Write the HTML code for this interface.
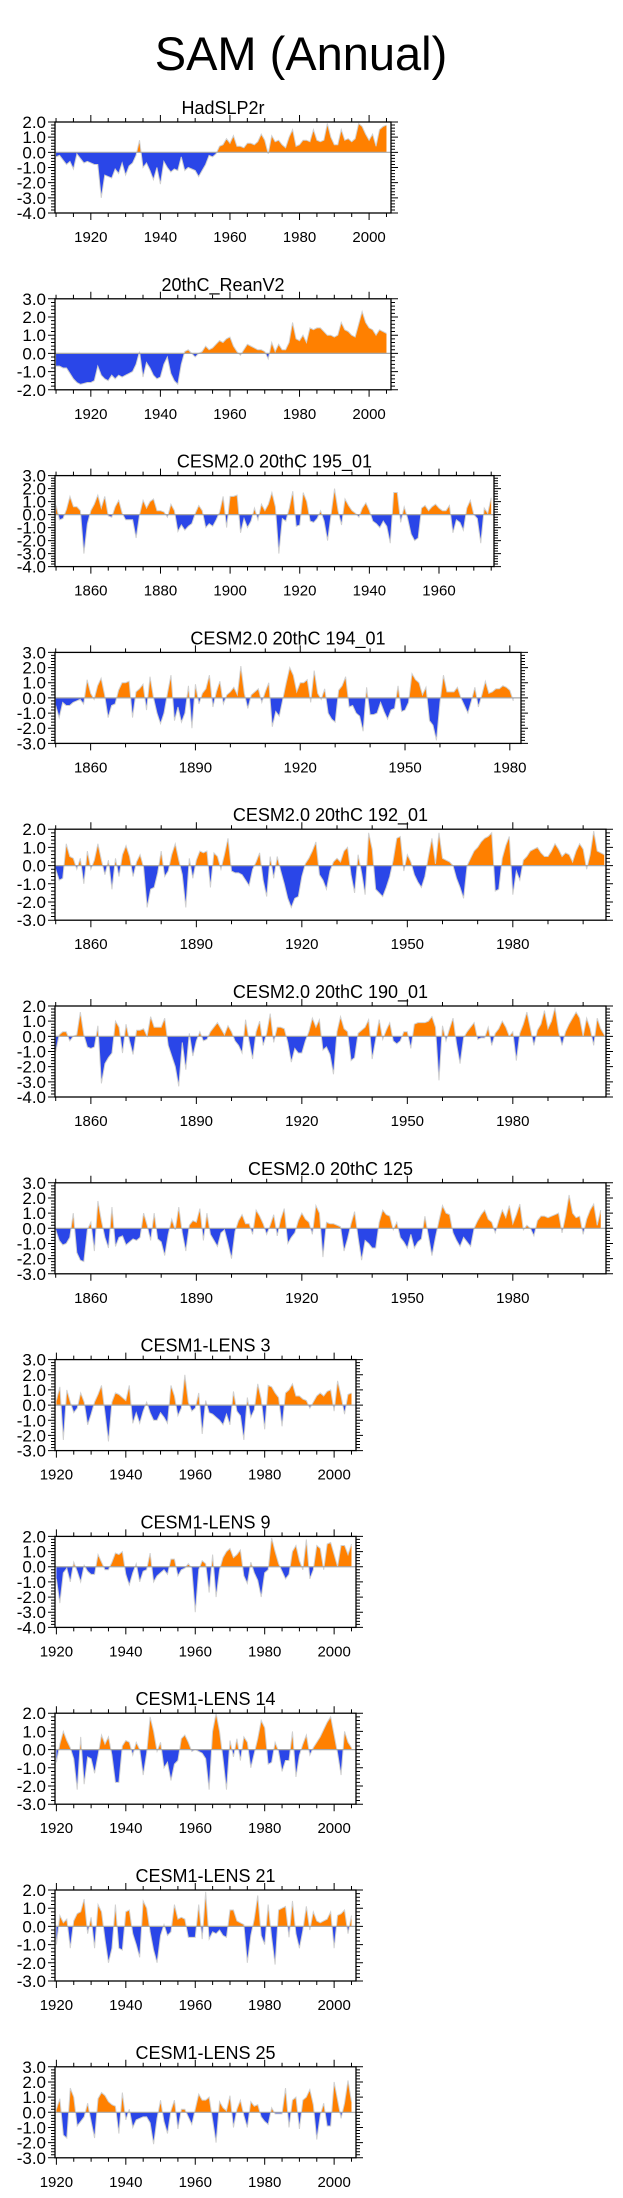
<!DOCTYPE html>
<html><head><meta charset="utf-8"><title>SAM (Annual)</title>
<style>
html,body{margin:0;padding:0;background:#fff;}
svg{display:block;font-family:"Liberation Sans",Arial,sans-serif;}
</style></head>
<body>
<svg id="chart" width="623" height="2198" viewBox="0 0 623 2198" xmlns="http://www.w3.org/2000/svg">
<text x="301" y="70" font-size="47" text-anchor="middle" fill="#000">SAM (Annual)</text>
</svg>
<script>
// ---- data (annual values, consecutive years from each start year) ----
const panelTitles = ["HadSLP2r","20thC_ReanV2","CESM2.0 20thC 195_01","CESM2.0 20thC 194_01","CESM2.0 20thC 192_01","CESM2.0 20thC 190_01","CESM2.0 20thC 125","CESM1-LENS 3","CESM1-LENS 9","CESM1-LENS 14","CESM1-LENS 21","CESM1-LENS 25"];
const startYears = [1910,1910,1850,1850,1850,1850,1850,1920,1920,1920,1920,1920];
const yMaxTicks = [2,3,3,3,2,2,3,3,2,2,2,3];
const yMinTicks = [-4,-2,-4,-3,-3,-4,-3,-3,-4,-3,-3,-3];
const xMajorStep = [20,20,20,30,30,30,30,20,20,20,20,20];
const xMinorStep = [5,5,5,10,10,10,10,5,5,5,5,5];

const hadslpValues = [-0.3,-0.2,-0.5,-0.8,-0.6,-1.1,-0.1,-0.4,-0.7,-0.6,
-0.7,-0.8,-0.8,-3.0,-1.5,-1.6,-1.7,-1.1,-1.4,-0.7,
-1.5,-0.9,-0.7,-0.2,0.8,-1.0,-0.7,-1.2,-1.8,-1.0,
-2.1,-0.6,-1.0,-1.3,-1.1,-1.2,-0.3,-1.2,-1.0,-1.1,
-1.2,-1.6,-1.2,-0.8,-0.2,-0.3,-0.1,0.4,0.5,0.9,
0.6,1.1,0.4,0.4,0.3,0.6,0.6,0.5,0.7,1.2,
0.8,-0.1,1.1,0.7,0.8,0.5,0.3,1.0,1.5,0.4,
0.5,0.8,0.8,0.7,1.5,0.8,0.7,0.8,1.9,1.0,
0.5,0.5,1.5,0.8,0.9,0.7,0.9,1.9,1.7,1.2,
0.8,1.2,0.4,1.5,1.7,1.8];
const reanValues = [-0.7,-0.7,-0.8,-0.8,-1.1,-1.4,-1.6,-1.7,-1.65,-1.6,
-1.6,-1.5,-0.7,-1.2,-1.4,-1.5,-1.2,-1.4,-1.2,-1.3,
-1.2,-1.1,-1.0,-0.6,0.1,-1.3,-0.5,-0.8,-1.2,-1.4,
-1.3,-0.6,-0.2,-1.1,-1.5,-1.7,-0.6,0.1,0.2,0.0,
-0.2,0.0,0.1,0.4,0.2,0.3,0.5,0.7,0.6,0.8,
0.9,0.4,0.1,-0.1,0.2,0.5,0.4,0.3,0.2,0.2,
0.1,-0.3,0.6,0.1,0.5,0.2,0.2,0.6,1.7,0.8,
0.7,1.0,0.6,1.4,1.3,1.4,1.4,1.2,1.0,1.0,
0.9,1.0,1.7,1.3,1.2,1.0,0.9,1.6,2.3,1.7,
1.4,1.3,1.0,1.3,1.2,1.1];
const cesm195Values = [0.7,-0.4,-0.3,0.4,1.4,0.6,0.6,0.3,-3.0,-0.7,
0.3,0.8,1.5,0.5,1.4,-0.1,-0.2,0.6,1.1,0.1,
-0.4,-0.4,-0.4,-1.8,0.0,1.1,0.5,1.0,1.2,0.3,
0.3,0.2,-0.2,0.8,0.3,-1.3,-0.8,-1.2,-0.9,-0.7,
0.1,0.7,0.3,-1.0,-0.7,-0.9,-0.4,0.2,1.4,-1.0,
1.4,1.4,1.5,-1.4,-0.3,-1.0,-0.5,0.5,-0.4,0.8,
0.3,0.8,1.7,0.6,-3.0,-0.3,-0.5,0.5,1.8,-0.9,
-0.8,1.7,1.0,-0.5,-0.6,-0.3,0.3,-0.5,-2.0,0.0,
2.0,0.3,-0.8,1.2,0.7,0.3,0.1,-0.2,0.5,0.9,
0.3,-0.5,-0.7,-1.0,-0.5,-0.9,-2.2,1.7,1.7,-0.6,
0.6,-0.3,-1.5,-2.0,-1.8,0.5,0.7,0.3,0.6,0.8,
0.5,0.3,0.3,0.7,-1.4,-0.4,-0.6,-1.2,0.5,1.1,
0.0,-0.3,-2.2,0.5,0.1,1.3];
const cesm194Values = [-0.5,-1.3,-0.3,-0.5,-0.5,-0.3,-0.2,-0.1,-0.4,1.2,
0.3,-0.1,0.8,1.3,0.2,-1.3,-0.5,-0.4,0.5,1.0,
1.0,1.1,-1.3,0.4,0.6,0.9,-0.8,1.4,0.0,-1.0,
-1.7,-1.0,0.3,1.5,-1.5,-0.6,-1.6,-1.0,0.8,-2.0,
0.9,-0.4,0.3,0.6,1.5,-0.6,0.4,1.1,-0.4,0.2,
0.4,0.7,0.2,2.1,0.3,-0.7,0.2,0.4,0.6,-0.3,
0.4,1.0,-1.9,-0.9,-1.2,-0.1,1.0,2.0,1.5,0.4,
1.0,1.0,1.2,-0.3,1.8,0.3,-0.1,0.6,-1.0,-1.4,
-1.6,0.5,0.8,1.4,-0.6,-0.5,-1.0,-1.2,-2.2,0.7,
-1.1,-1.1,-1.0,-0.3,-0.9,-1.4,-0.8,-0.7,0.8,-0.9,
-0.8,-0.3,1.6,1.2,1.0,0.2,0.7,-1.5,-1.8,-2.8,
-0.3,1.5,0.4,0.4,0.4,0.7,0.0,-0.5,-1.0,-0.2,
0.7,-0.6,0.2,1.1,0.3,0.4,0.6,0.6,0.8,0.7,
0.5,-0.2];
const cesm192Values = [-0.2,-0.8,-0.7,1.2,0.5,0.4,-0.2,0.4,-1.0,0.8,
-0.2,0.3,1.2,0.3,-0.5,0.3,-1.3,0.4,-0.6,0.6,
1.1,0.5,-0.6,0.2,0.6,-0.1,-2.3,-1.3,-1.2,-0.4,
0.8,-0.6,-0.3,0.6,1.2,0.3,-0.5,-2.3,0.4,-0.7,
0.3,0.8,0.7,0.8,-1.2,0.7,0.5,-0.2,0.6,1.5,
-0.3,-0.4,-0.4,-0.5,-0.8,-1.1,-0.2,0.2,0.7,-0.8,
-1.7,0.5,-0.7,0.5,-0.3,-1.0,-1.8,-2.3,-1.8,-1.7,
-0.6,0.1,0.4,0.8,1.3,-0.5,-0.8,-1.3,-0.3,0.2,
0.4,0.2,0.8,1.0,-0.5,-1.5,0.6,-0.4,-1.6,1.8,
0.9,-1.3,-1.5,-1.7,-1.2,-0.6,0.3,1.5,1.6,-0.3,
0.6,0.2,-0.5,-0.9,-1.2,-0.6,0.5,1.5,0.1,1.8,
0.4,0.3,0.2,0.0,-0.7,-1.2,-1.8,0.0,0.4,0.8,
1.0,1.3,1.5,1.6,1.8,-1.4,-1.3,0.4,1.1,1.6,
-1.6,-0.3,-0.8,0.3,0.5,0.8,0.9,1.0,0.7,0.5,
0.5,0.8,1.2,0.9,0.5,0.7,0.6,0.2,0.8,1.2,
0.9,-0.2,0.6,1.9,0.8,0.7,0.6];
const cesm190Values = [-1.0,0.1,0.3,0.3,-0.3,0.0,0.1,1.6,0.1,-0.7,
-0.8,-0.7,0.7,-3.1,-1.8,-1.4,-1.1,1.0,0.6,-1.1,
0.8,-0.3,-1.2,0.4,0.4,0.5,0.0,1.3,0.6,0.6,
0.6,1.2,-0.6,-1.3,-2.0,-3.3,-0.4,-2.2,0.2,-1.3,
-0.3,0.3,-0.3,-0.2,0.3,0.6,0.9,0.5,0.1,0.7,
0.3,-0.3,-0.6,-1.1,1.1,-0.3,-1.5,0.3,1.0,-0.6,
0.2,1.5,-0.4,0.6,0.6,0.5,-0.4,-1.7,-0.8,-1.1,
-1.1,-0.3,0.3,1.2,0.6,1.1,-0.9,-0.7,-1.2,-2.5,
0.3,1.3,0.5,0.3,-1.6,-1.4,0.2,0.4,0.6,1.1,
-1.5,-0.2,1.1,-0.2,0.4,0.9,-0.3,-0.5,-0.3,0.3,
0.3,-0.8,0.8,0.9,0.9,0.9,1.0,1.3,0.6,-2.9,
0.7,-0.3,0.5,1.2,-0.5,-1.8,-0.1,0.3,0.6,0.9,
-0.2,-0.1,-0.1,0.6,-0.6,0.2,0.5,1.0,0.6,0.0,
0.3,-1.6,0.2,0.8,1.6,0.5,-0.6,0.4,0.8,1.7,
0.5,1.0,1.9,0.3,-0.6,0.3,0.8,1.2,1.6,1.2,
0.0,1.2,0.5,-0.6,1.2,0.5,0.1];
const cesm125Values = [-0.1,-0.8,-1.1,-1.0,-0.6,1.0,-1.6,-2.1,-2.2,-0.1,
0.4,-1.5,1.8,0.5,-0.6,-1.3,1.4,-1.2,-0.6,-0.5,
-1.1,-0.9,-0.7,-0.8,-0.6,1.0,0.2,-0.8,1.0,-0.7,
-0.9,-1.8,-0.4,0.6,-0.1,1.4,-0.3,-1.5,0.2,0.5,
0.4,1.3,-0.8,1.0,-0.4,-0.8,-1.2,-0.3,-0.1,-1.0,
-2.0,-0.2,0.5,0.9,0.3,0.3,-0.4,1.2,0.8,0.3,
-0.4,0.2,0.9,-0.5,0.6,1.3,-1.0,-0.6,-0.3,0.5,
1.0,0.6,0.4,-0.4,1.5,1.0,-1.9,0.4,0.3,0.3,
0.2,0.1,-1.5,-0.7,0.3,1.1,-0.6,-2.1,-0.8,-1.0,
-1.3,-1.3,0.4,1.2,0.9,0.8,-0.1,0.4,-0.6,-0.9,
-1.3,-0.4,-1.3,-0.9,-0.7,0.8,-0.5,-1.8,-0.6,0.5,
1.5,1.0,0.9,-0.3,-0.8,-1.2,-0.6,-0.9,-1.2,0.0,
0.5,0.9,1.2,0.6,0.4,-0.3,0.5,1.2,0.7,1.5,
0.3,0.9,1.6,-0.1,0.2,0.0,-0.5,0.5,0.8,0.8,
0.7,0.8,0.9,1.0,-0.3,0.8,2.2,1.0,0.7,0.8,
-0.4,0.6,1.2,1.6,0.2,1.2];
const lens3Values = [0.3,1.2,-2.3,1.0,0.2,-0.5,-0.2,0.8,0.2,-1.3,
-0.6,0.2,0.7,1.3,-0.5,-2.4,0.2,0.8,0.7,0.5,
0.3,1.3,-1.2,-0.5,-1.2,-0.4,0.2,-0.5,-1.0,-1.0,
-0.5,-0.8,-1.2,1.3,0.6,-0.7,-0.2,2.0,0.2,-0.4,
-0.2,0.8,-1.9,0.3,-0.5,-0.6,-0.8,-1.0,-1.3,-0.6,
-1.3,0.9,-0.4,-0.7,-2.3,0.5,-0.8,-0.3,1.4,0.4,
-1.6,1.3,1.2,0.8,0.5,-1.4,0.8,1.0,1.4,0.6,
0.6,0.4,0.3,-0.2,0.2,0.6,0.8,0.6,0.9,1.0,
-0.4,1.6,0.6,-0.6,0.7,0.8];
const lens9Values = [-0.8,-2.4,-0.4,-0.1,-1.0,0.3,-0.3,-1.0,0.1,-0.3,
-0.5,-0.5,0.8,0.3,-0.2,-0.2,0.3,0.9,0.8,1.0,
-0.5,-1.2,-0.4,0.2,-1.0,-0.3,-0.2,0.9,-1.0,-0.6,
-0.4,-0.2,-0.5,0.5,0.5,-0.6,-0.2,-0.1,0.2,-0.1,
-3.0,-0.2,0.4,0.2,-1.7,0.8,-2.0,-0.2,0.6,1.0,
1.2,0.6,0.8,1.1,-0.6,-1.1,0.3,-0.4,-0.9,-2.0,
-0.4,-0.2,1.9,1.0,0.2,-0.3,-0.8,-0.5,1.0,1.4,
0.4,-0.2,1.8,-0.8,-0.2,1.4,1.2,-0.2,1.5,1.6,
0.8,0.0,1.4,1.4,0.8,1.5];
const lens14Values = [-0.7,0.3,1.0,0.5,0.1,-0.5,-2.2,0.7,-1.9,-0.4,
-0.5,-1.3,-0.3,0.8,0.3,0.7,-0.3,-1.8,-1.8,0.2,
0.5,0.4,-0.3,0.4,0.0,-1.4,-0.2,1.8,1.0,-0.1,
0.4,-1.0,-0.7,-1.7,-0.8,-0.6,0.6,0.8,0.4,-0.1,
0.0,-0.1,-0.2,-0.5,-2.2,1.0,2.0,1.0,-0.5,-2.2,
0.5,-0.4,0.6,-0.6,0.7,0.4,-1.0,-0.2,0.6,1.6,
1.2,-0.8,-0.7,0.4,-0.1,-1.2,-0.6,-0.6,1.0,-1.5,
-0.3,0.3,0.8,-0.3,0.1,0.4,0.7,1.1,1.5,1.8,
0.8,-0.2,-1.4,1.0,0.4,0.1];
const lens21Values = [-1.0,0.6,0.2,0.4,-1.2,0.3,0.7,0.8,1.5,-0.4,
0.5,-1.2,1.2,0.8,-0.7,-2.0,-1.2,1.2,-1.2,-1.3,
0.8,0.9,-0.4,-1.0,-1.7,1.4,1.0,-0.3,-1.3,-2.0,
-0.5,0.1,-0.5,-0.3,1.2,0.4,0.5,0.4,-0.6,-0.6,
-0.6,1.2,-0.7,1.9,-0.7,-0.3,-0.4,-0.2,-0.5,-0.6,
0.9,0.9,0.3,0.2,0.1,-2.0,-0.5,0.4,1.7,-0.5,
-1.0,1.2,-0.6,-2.1,0.9,1.0,1.1,-0.6,1.4,-0.4,
-1.2,-0.2,1.1,-0.2,0.8,0.3,0.2,0.3,0.4,0.8,
-1.2,0.6,0.7,0.9,-0.4,0.6];
const lens25Values = [0.2,0.9,-1.5,-1.7,1.6,1.0,-0.9,-0.6,-0.3,0.6,
-0.6,-1.7,0.9,1.3,1.1,0.7,0.5,0.4,-1.4,1.3,
-0.5,0.2,-1.0,-0.5,-0.4,-0.3,-0.3,-0.7,-2.1,-0.4,
0.8,-0.6,-1.4,0.1,0.8,-1.1,0.2,0.2,-0.3,-0.8,
0.2,1.2,0.8,0.8,1.0,-0.5,-2.0,0.7,0.3,0.1,
1.1,-1.0,0.2,0.8,-0.2,-1.0,0.7,0.4,0.5,-0.3,
-0.6,-0.8,0.3,-0.1,-0.1,-0.1,1.6,-1.0,0.8,1.0,
-1.1,0.8,1.0,1.5,0.5,-1.8,-0.2,0.6,-0.9,-0.9,
2.0,0.8,-0.4,0.6,2.1,0.7];

const seriesList = [hadslpValues,reanValues,cesm195Values,cesm194Values,cesm192Values,cesm190Values,cesm125Values,lens3Values,lens9Values,lens14Values,lens21Values,lens25Values];

// ---- layout (pixels / axis extents, not data) ----
const layout = [
 {yr0:1909.7, yr1:2006.3, right:391},
 {yr0:1909.7, yr1:2006.3, right:391},
 {yr0:1849.7, yr1:1975.8, right:494},
 {yr0:1849.8, yr1:1983.2, right:521},
 {yr0:1849.8, yr1:2006.5, right:606},
 {yr0:1849.8, yr1:2006.5, right:606},
 {yr0:1849.8, yr1:2006.5, right:606},
 {yr0:1919.6, yr1:2006.3, right:356},
 {yr0:1919.6, yr1:2006.3, right:356},
 {yr0:1919.6, yr1:2006.3, right:356},
 {yr0:1919.6, yr1:2006.3, right:356},
 {yr0:1919.6, yr1:2006.3, right:356}
];
const LEFT = 55, PH = 91;
const NS = "http://www.w3.org/2000/svg";
const svg = document.getElementById('chart');
const defs = document.createElementNS(NS,'defs');
svg.appendChild(defs);

function mk(tag, attrs, parent){
  const e = document.createElementNS(NS, tag);
  for (const k in attrs) e.setAttribute(k, attrs[k]);
  parent.appendChild(e);
  return e;
}
const slug = s => s.toLowerCase().replace(/[^a-z0-9]+/g,'-').replace(/^-|-$/g,'');

seriesList.forEach((vals, i) => {
  const L = layout[i];
  const top = 122 + i*176.8, bottom = top + PH;
  const yMax = yMaxTicks[i], yMin = yMinTicks[i];
  const xS = yr => LEFT + (yr - L.yr0) / (L.yr1 - L.yr0) * (L.right - LEFT);
  const yS = v => top + (yMax - v) / (yMax - yMin) * PH;
  const zeroY = yS(0);
  const name = slug(panelTitles[i]);

  const g = mk('g', {}, svg);
  
  

  const t = mk('text', {x:(LEFT+L.right)/2, y:top-8, 'font-size':18, 'text-anchor':'middle', fill:'#000'}, g);
  t.textContent = panelTitles[i];
  
  

  const cpPos = mk('clipPath', {id:'pos'+i}, defs);
  mk('rect', {x:LEFT, y:top, width:L.right-LEFT, height:zeroY-top}, cpPos);
  const cpNeg = mk('clipPath', {id:'neg'+i}, defs);
  mk('rect', {x:LEFT, y:zeroY, width:L.right-LEFT, height:bottom-zeroY}, cpNeg);

  const pts = vals.map((v, k) => [xS(startYears[i] + k), yS(v)]);
  const line = pts.map(p => p[0].toFixed(2)+','+p[1].toFixed(2)).join(' ');
  const area = 'M' + pts[0][0].toFixed(2) + ',' + zeroY.toFixed(2) + ' L' + line.replace(/ /g,' L') +
    ' L' + pts[pts.length-1][0].toFixed(2) + ',' + zeroY.toFixed(2) + ' Z';

  const pos = mk('path', {d:area, fill:'#ff8000', 'clip-path':'url(#pos'+i+')'}, g);
  
  
  const neg = mk('path', {d:area, fill:'#2a46e8', 'clip-path':'url(#neg'+i+')'}, g);
  
  
  const pl = mk('polyline', {points:line, fill:'none', stroke:'#d0d0d0', 'stroke-width':1}, g);
  
  

  const zl = mk('line', {x1:LEFT, x2:L.right, y1:zeroY, y2:zeroY, stroke:'#a8a8a8', 'stroke-width':1.2}, g);
  
  

  const fr = mk('rect', {x:LEFT, y:top, width:L.right-LEFT, height:PH, fill:'none', stroke:'#000', 'stroke-width':1.3}, g);
  
  

  let d = '';
  for (let v = yMin; v <= yMax + 1e-9; v += 0.2) {
    const y = yS(v).toFixed(2);
    const major = Math.abs(v - Math.round(v)) < 1e-6;
    const len = major ? 7 : 4;
    d += 'M'+LEFT+','+y+' h-'+len+' M'+L.right+','+y+' h'+len+' ';
  }
  const xStart = Math.ceil(L.yr0 / xMinorStep[i]) * xMinorStep[i];
  for (let yr = xStart; yr <= L.yr1; yr += xMinorStep[i]) {
    const x = xS(yr).toFixed(2);
    const major = yr % xMajorStep[i] === 0;
    const len = major ? 7 : 4;
    d += 'M'+x+','+top+' v-'+len+' M'+x+','+bottom+' v'+len+' ';
  }
  const tk = mk('path', {d:d, stroke:'#000', 'stroke-width':1, fill:'none'}, g);
  
  

  for (let v = yMin; v <= yMax; v += 1) {
    const lb = mk('text', {x:46, y:yS(v)+6, 'font-size':17, 'text-anchor':'end', fill:'#000'}, g);
    lb.textContent = v.toFixed(1);
    
    
  }
  const mStart = Math.ceil(L.yr0 / xMajorStep[i]) * xMajorStep[i];
  for (let yr = mStart; yr <= L.yr1; yr += xMajorStep[i]) {
    const lb = mk('text', {x:xS(yr), y:bottom+29, 'font-size':15, 'text-anchor':'middle', fill:'#000'}, g);
    lb.textContent = yr;
    
    
  }
});
</script>
</body></html>
